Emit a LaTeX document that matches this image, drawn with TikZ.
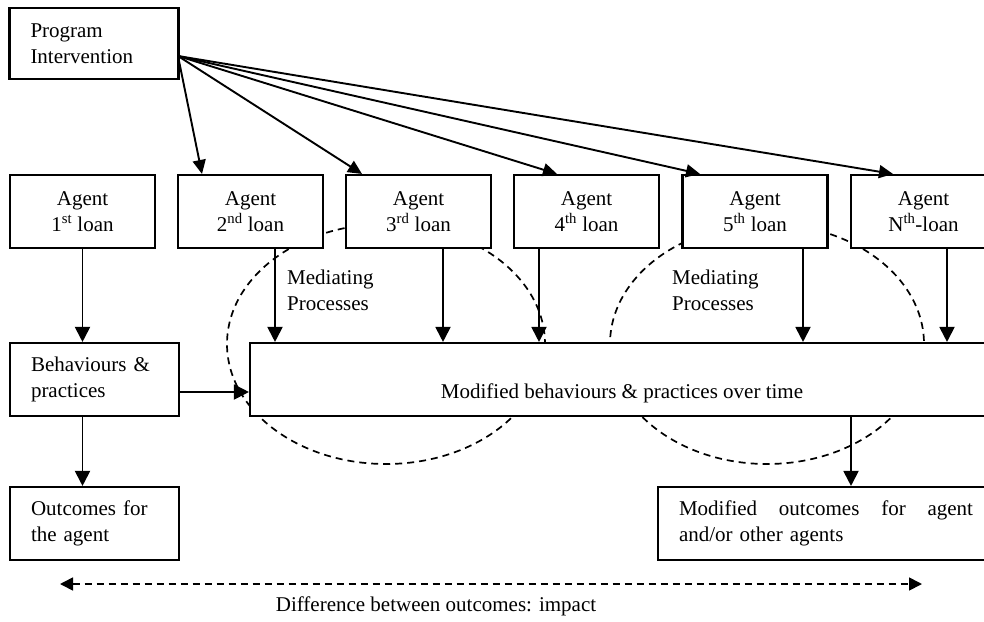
\documentclass[tikz,border=0pt]{standalone}
\usepackage{fontspec}
\setmainfont{Liberation Serif}
\usetikzlibrary{arrows.meta}
\begin{document}
\begin{tikzpicture}[x=1pt,y=-1pt,
  every node/.style={font=\fontsize{21}{26}\selectfont},
  box/.style={draw, line width=2.1pt, fill=white, minimum height=73pt},
  lbox/.style={box, inner xsep=21pt, inner ysep=0pt, align=left},
  abox/.style={box, minimum width=145pt, inner sep=0pt, align=center},
  arr/.style={-{Triangle[length=15pt,width=15pt]}, line width=1.9pt},
  parr/.style={-{Triangle[length=14pt,width=13pt]}, line width=1.9pt},
  dsh/.style={line width=1.7pt, dash pattern=on 7pt off 5pt},
  plain/.style={inner sep=0pt, align=left}
]
\useasboundingbox (0,0) rectangle (984,621);
\clip (0,0) rectangle (984,621);
% mediating-process ellipses (behind the boxes)
\draw[dsh] (386,344) ellipse [x radius=159, y radius=120];
\draw[dsh] (767,344) ellipse [x radius=157, y radius=120];

% boxes
\node[lbox, text width=127pt, minimum height=71pt] (pi) at (94,43.5) {Program\\Intervention};
\node[abox] (a1) at (82.5,211.5) {Agent\\1\textsuperscript{st} loan};
\node[abox] (a2) at (250.5,211.5) {Agent\\2\textsuperscript{nd} loan};
\node[abox] (a3) at (418.5,211.5) {Agent\\3\textsuperscript{rd} loan};
\node[abox] (a4) at (586.5,211.5) {Agent\\4\textsuperscript{th} loan};
\node[abox] (a5) at (755,211.5) {Agent\\5\textsuperscript{th} loan};
\node[abox] (an) at (923.5,211.5) {Agent\\N\textsuperscript{th}-loan};
\node[lbox, text width=127pt] (beh) at (94.5,379.5) {Behaviours \&\\practices};
\node[box, minimum width=744pt] (mod) at (622,379.5) {};
\node[inner sep=0pt, anchor=base] (modt) at (622,398) {Modified behaviours \& practices over time};
\node[lbox, text width=127pt] (out) at (94.5,523.5) {Outcomes for\\the agent};
\node[lbox, text width=300pt] (mout) at (829,523.5) {\makebox[294pt][l]{Modified\hfill outcomes\hfill for\hfill agent}\\and/or other agents};

% labels
\node[plain, anchor=north west] (mp1) at (287,270) {Mediating\\Processes};
\node[plain, anchor=north west] (mp2) at (672,270) {Mediating\\Processes};
\node[inner sep=0pt] (diff) at (436,606) {Difference between outcomes: impact};

% helper coordinates
\coordinate (pis) at (178,56);
\coordinate (x2) at (202,0);
\coordinate (x3) at (362,0);
\coordinate (x4) at (557,0);
\coordinate (x5) at (700,0);
\coordinate (xn) at (893,0);
\coordinate (d2) at (275,0);
\coordinate (d3) at (443,0);
\coordinate (d4) at (539,0);
\coordinate (d5) at (803,0);
\coordinate (dn) at (947,0);
\coordinate (dm) at (851,0);
\coordinate (yb) at (0,392);
\coordinate (dl) at (60,584);
\coordinate (dr) at (922,584);

% program intervention arrows
\draw[parr] (pis) -- (a2.north -| x2);
\draw[parr] (pis) -- (a3.north -| x3);
\draw[parr] (pis) -- (a4.north -| x4);
\draw[parr] (pis) -- (a5.north -| x5);
\draw[parr] (pis) -- (an.north -| xn);

% vertical arrows
\draw[arr] (a1.south) -- (beh.north -| a1.south);
\draw[arr] (beh.south -| a1.south) -- (out.north -| a1.south);
\draw[arr] (beh.east |- yb) -- (mod.west |- yb);
\draw[arr] (a2.south -| d2) -- (mod.north -| d2);
\draw[arr] (a3.south -| d3) -- (mod.north -| d3);
\draw[arr] (a4.south -| d4) -- (mod.north -| d4);
\draw[arr] (a5.south -| d5) -- (mod.north -| d5);
\draw[arr] (an.south -| dn) -- (mod.north -| dn);
\draw[arr] (mod.south -| dm) -- (mout.north -| dm);

% impact arrow
\draw[dsh, {Triangle[length=13pt,width=13pt]}-{Triangle[length=13pt,width=13pt]}] (dl) -- (dr);
\end{tikzpicture}
\end{document}
